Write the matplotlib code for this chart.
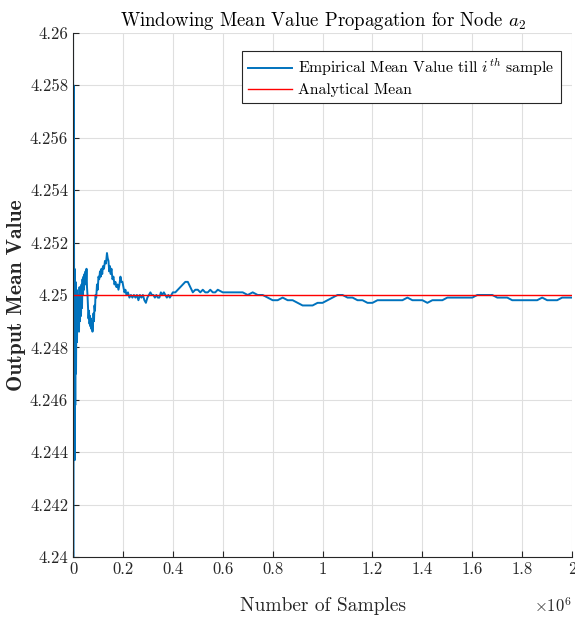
import matplotlib
matplotlib.use("Agg")
import matplotlib.pyplot as plt
from matplotlib.ticker import FuncFormatter, MultipleLocator

plt.rcParams['font.family'] = ['cmr10', 'DejaVu Serif']
plt.rcParams['mathtext.fontset'] = 'cm'
plt.rcParams['axes.unicode_minus'] = False

# running mean (samples, mean value)
samples = [
    0, 1000, 2000, 3000, 4000, 5000, 6000, 7000, 8000, 9000,
    10000, 12000, 14000, 16000, 18000, 20000, 22000, 24000, 26000, 28000,
    30000, 32000, 34000, 36000, 38000, 40000, 42000, 44000, 46000, 48000,
    50000, 52000, 54000, 56000, 58000, 60000, 62000, 64000, 66000, 68000,
    70000, 72000, 74000, 76000, 78000, 80000, 82000, 84000, 86000, 88000,
    90000, 93000, 96000, 99000, 102000, 105000, 108000, 111000, 114000, 117000,
    120000, 124000, 128000, 132000, 136000, 139000, 142000, 145000, 148000, 151000,
    154000, 158000, 162000, 166000, 170000, 174000, 178000, 182000, 186000, 190000,
    194000, 198000, 202000, 206000, 210000, 214000, 220000, 226000, 232000, 238000,
    244000, 250000, 256000, 262000, 268000, 274000, 280000, 286000, 292000, 298000,
    304000, 310000, 316000, 322000, 328000, 334000, 340000, 346000, 352000, 358000,
    364000, 370000, 376000, 382000, 388000, 394000, 400000, 410000, 420000, 430000,
    440000, 450000, 460000, 470000, 480000, 490000, 500000, 510000, 520000, 530000,
    540000, 550000, 560000, 570000, 580000, 600000, 620000, 640000, 660000, 680000,
    700000, 720000, 740000, 760000, 780000, 800000, 820000, 840000, 860000, 880000,
    900000, 920000, 940000, 960000, 980000, 1000000, 1020000, 1040000, 1060000, 1080000,
    1100000, 1120000, 1140000, 1160000, 1180000, 1200000, 1220000, 1240000, 1260000, 1280000,
    1300000, 1320000, 1340000, 1360000, 1380000, 1400000, 1420000, 1440000, 1460000, 1480000,
    1500000, 1520000, 1540000, 1560000, 1580000, 1600000, 1620000, 1640000, 1660000, 1680000,
    1700000, 1720000, 1740000, 1760000, 1780000, 1800000, 1820000, 1840000, 1860000, 1880000,
    1900000, 1920000, 1940000, 1960000, 1980000, 2000000,
]
emp_mean = [
    4.2650, 4.2350, 4.2580, 4.2440, 4.2530, 4.2450, 4.2510, 4.2437, 4.2495, 4.2458,
    4.2505, 4.2470, 4.2502, 4.2482, 4.2500, 4.2488, 4.2498, 4.2486, 4.2503, 4.2490,
    4.2499, 4.2492, 4.2504, 4.2495, 4.2506, 4.2500, 4.2507, 4.2502, 4.2508, 4.2504,
    4.2509, 4.2505, 4.2510, 4.2503, 4.2500, 4.2495, 4.2491, 4.2494, 4.2489, 4.2492,
    4.2488, 4.2491, 4.2487, 4.2490, 4.2486, 4.2489, 4.2493, 4.2490, 4.2496, 4.2494,
    4.2500, 4.2499, 4.2504, 4.2502, 4.2507, 4.2506, 4.2509, 4.2507, 4.2510, 4.2508,
    4.2511, 4.2510, 4.2513, 4.2512, 4.2516, 4.2514, 4.2513, 4.2509, 4.2511, 4.2508,
    4.2510, 4.2506, 4.2507, 4.2504, 4.2505, 4.2503, 4.2504, 4.2502, 4.2504, 4.2507,
    4.2505, 4.2505, 4.2503, 4.2501, 4.2502, 4.2500, 4.2501, 4.2499, 4.2500, 4.2499,
    4.2500, 4.2499, 4.2500, 4.2498, 4.2500, 4.2499, 4.2500, 4.2498, 4.2497, 4.2499,
    4.2500, 4.2501, 4.2500, 4.2500, 4.2499, 4.2500, 4.2499, 4.2499, 4.2501, 4.2500,
    4.2501, 4.2500, 4.2499, 4.2500, 4.2499, 4.2500, 4.2501, 4.2501, 4.2502, 4.2503,
    4.2504, 4.2505, 4.2505, 4.2503, 4.2501, 4.2502, 4.2502, 4.2501, 4.2502, 4.2501,
    4.2501, 4.2502, 4.2501, 4.2501, 4.2502, 4.2501, 4.2501, 4.2501, 4.2501, 4.2501,
    4.2500, 4.2501, 4.2500, 4.2500, 4.2499, 4.2498, 4.2498, 4.2499, 4.2498, 4.2498,
    4.2497, 4.2496, 4.2496, 4.2496, 4.2497, 4.2497, 4.2498, 4.2499, 4.2500, 4.2500,
    4.2499, 4.2499, 4.2498, 4.2498, 4.2497, 4.2497, 4.2498, 4.2498, 4.2498, 4.2498,
    4.2498, 4.2498, 4.2499, 4.2498, 4.2498, 4.2498, 4.2497, 4.2498, 4.2498, 4.2498,
    4.2499, 4.2499, 4.2499, 4.2499, 4.2499, 4.2499, 4.2500, 4.2500, 4.2500, 4.2500,
    4.2499, 4.2499, 4.2499, 4.2498, 4.2498, 4.2498, 4.2498, 4.2498, 4.2498, 4.2499,
    4.2498, 4.2498, 4.2498, 4.2499, 4.2499, 4.2499,
]
analytical_mean = 4.25

fig = plt.figure(figsize=(5.75, 6.21), dpi=100)
ax = fig.add_axes([0.127, 0.103, 0.868, 0.844])

ax.plot(samples, emp_mean, color='#0072BD', lw=1.4,
        label=r'Empirical Mean Value till $i^{th}$ sample')
ax.axhline(analytical_mean, color='#FF0000', lw=1.0, label='Analytical Mean')

ax.set_xlim(0, 2e6)
ax.set_ylim(4.24, 4.26)
ax.xaxis.set_major_locator(MultipleLocator(0.2e6))
ax.yaxis.set_major_locator(MultipleLocator(0.002))
ax.xaxis.set_major_formatter(FuncFormatter(lambda v, p: f"{v/1e6:g}"))
ax.yaxis.set_major_formatter(FuncFormatter(lambda v, p: f"{round(v, 4):g}"))
ax.tick_params(direction='in', length=4, width=0.8, colors='#262626',
               labelsize=12, labelcolor='#262626')

ax.grid(True, color='#dfdfdf', lw=0.8)
ax.set_axisbelow(True)
for s in ['top', 'right']:
    ax.spines[s].set_visible(False)
for s in ['left', 'bottom']:
    ax.spines[s].set_color('#262626')
    ax.spines[s].set_linewidth(0.8)

ax.text(1.0, -0.075, r'$\times10^6$', transform=ax.transAxes, ha='right',
        va='top', fontsize=12, color='#262626')

ax.set_title(r'Windowing Mean Value Propagation for Node $a_2$', fontsize=13.5,
             color='black', pad=5)
ax.set_xlabel('Number of Samples', fontsize=14, color='#262626', labelpad=14)
ax.set_ylabel('Output Mean Value', fontsize=15.5, family='cmb10', color='#262626',
              labelpad=3)

leg = ax.legend(loc='upper right', fontsize=11.3, fancybox=False, framealpha=1,
                edgecolor='#262626', bbox_to_anchor=(0.978, 0.966),
                borderaxespad=0, handlelength=2.8, borderpad=0.4,
                labelspacing=0.3, handletextpad=0.4)
leg.get_frame().set_linewidth(0.8)

fig.savefig('out.png', dpi=100)
